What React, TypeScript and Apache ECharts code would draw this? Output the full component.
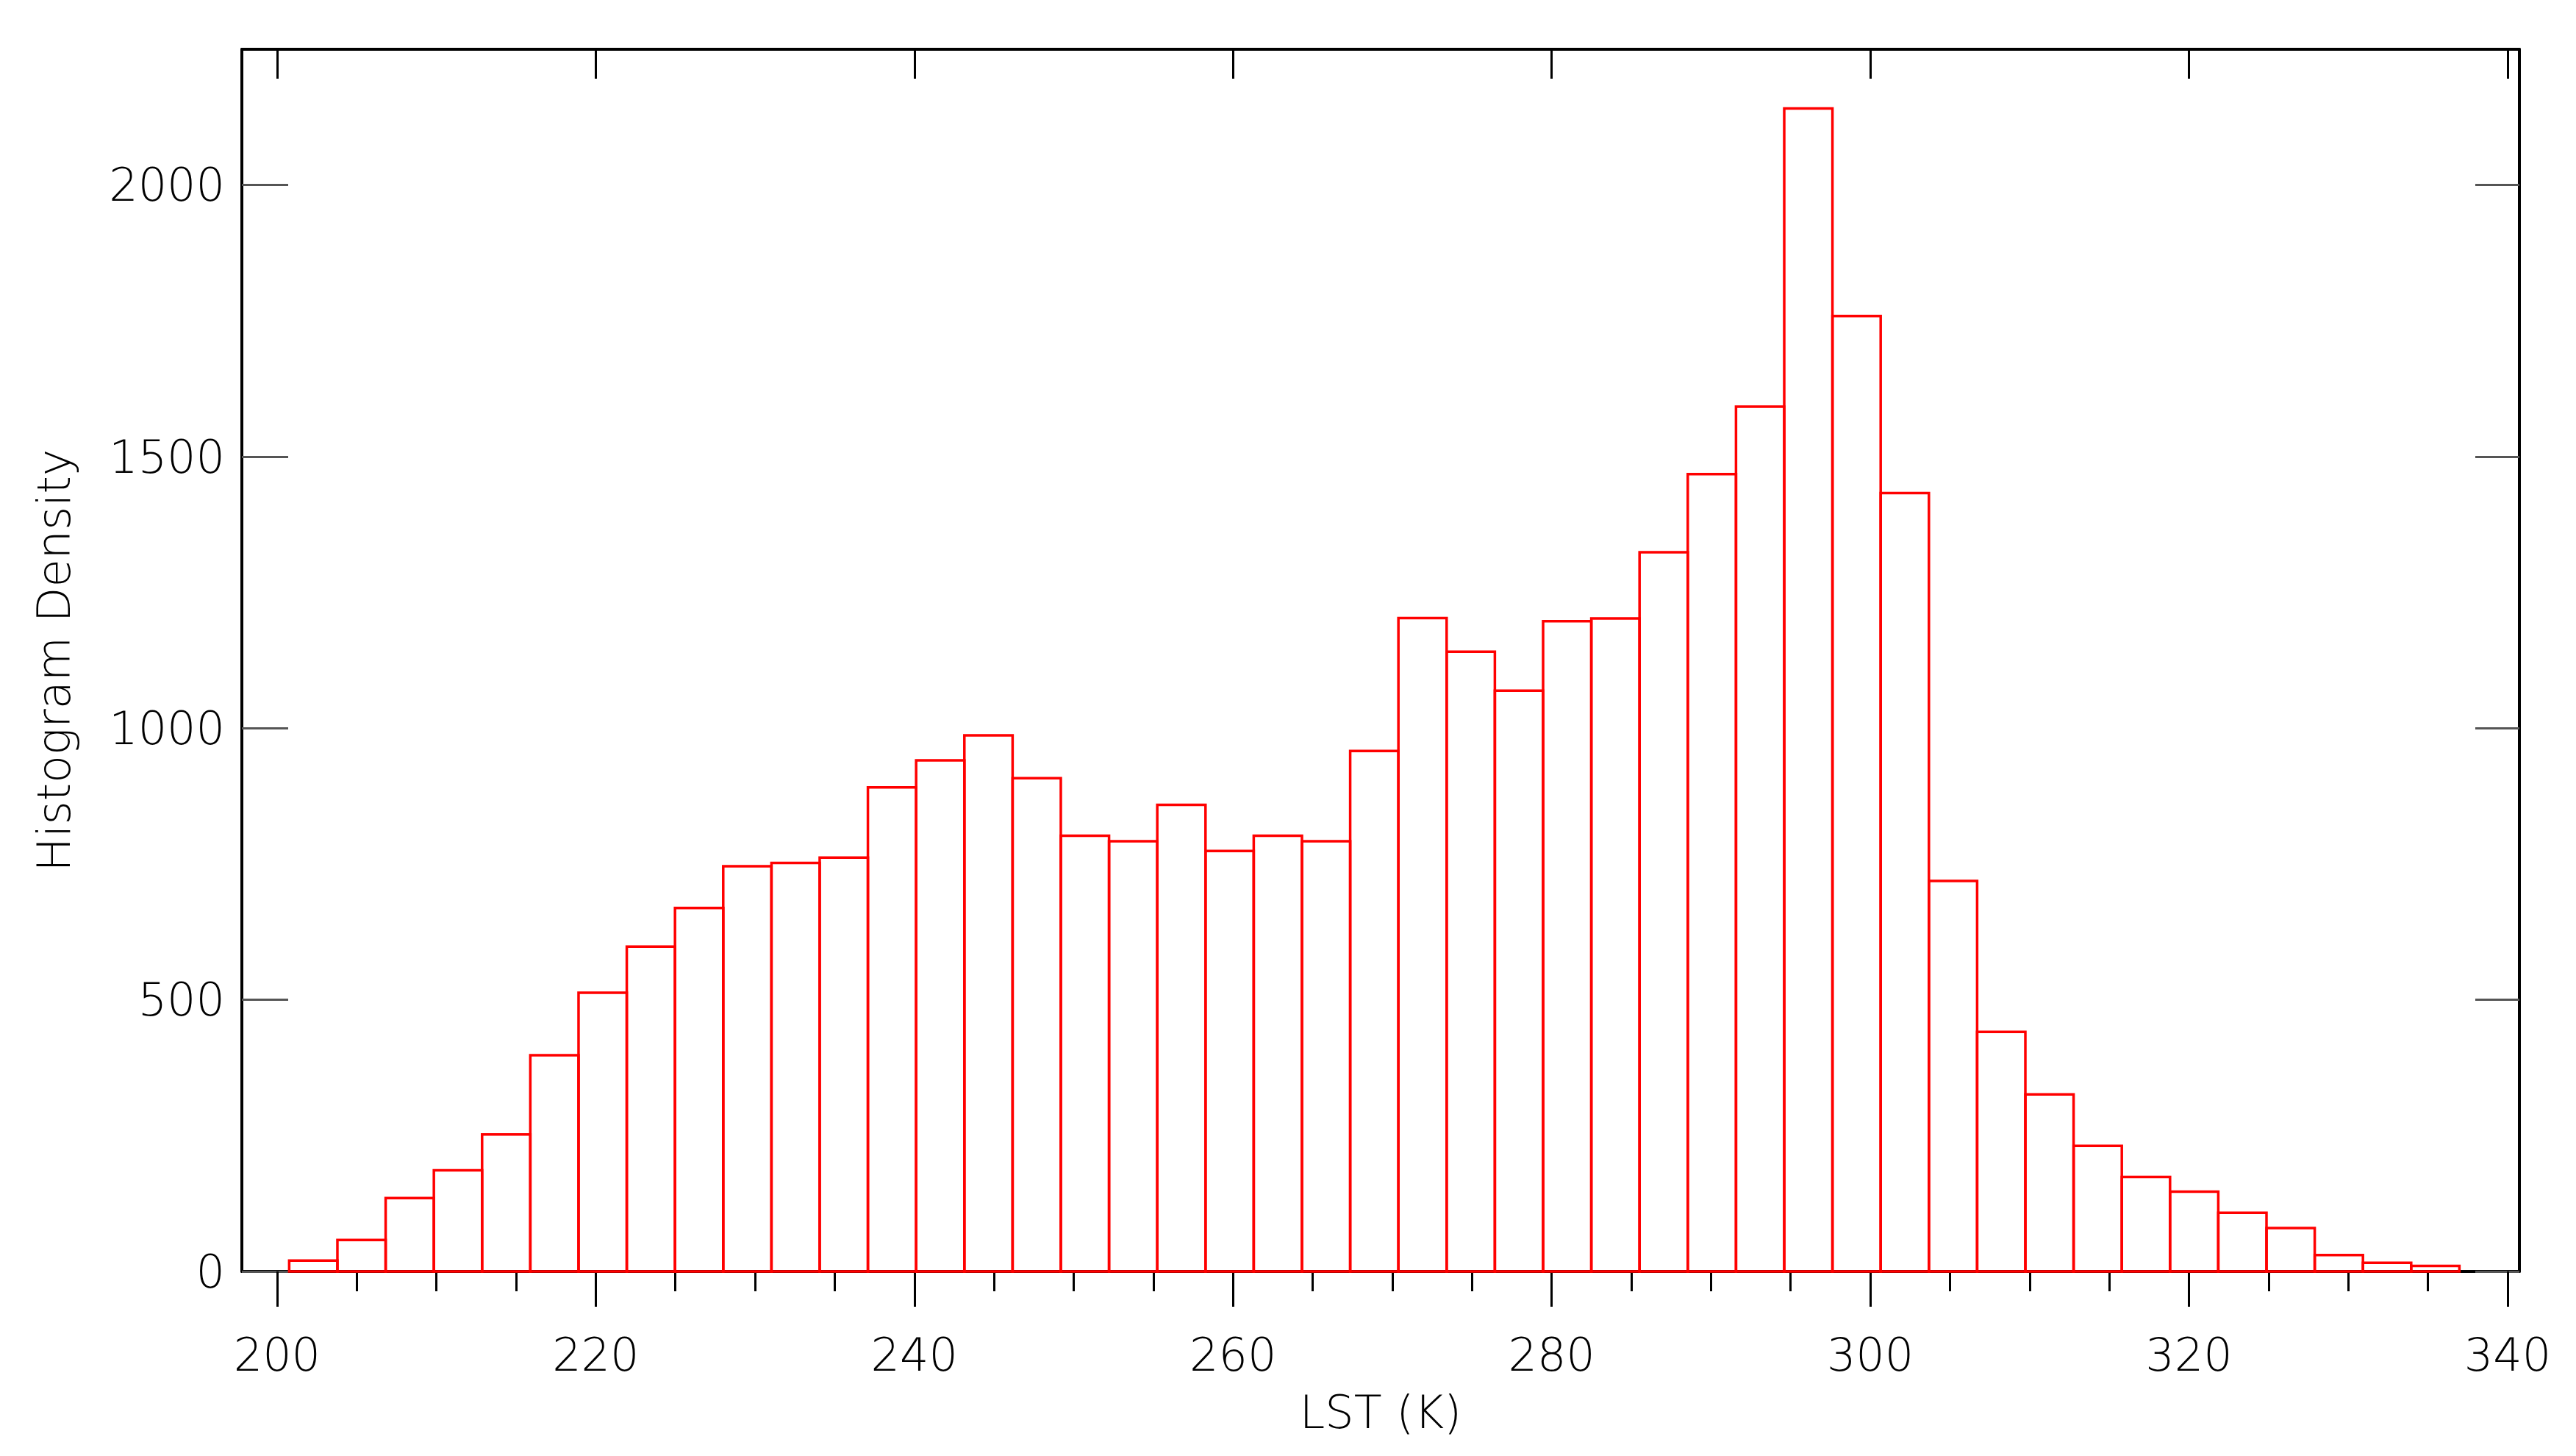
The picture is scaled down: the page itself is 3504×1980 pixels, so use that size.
import React, { useEffect, useRef } from "react";
import * as echarts from "echarts";

// Histogram of LST (K): bins start at binStart, each binWidth wide
const binStart = 200.76;
const binWidth = 3.027;
const densityValues = [
  20, 58, 135, 186, 252, 398, 513, 598, 669, 746, 752, 762, 891, 941, 987,
  908, 802, 792, 859, 774, 802, 792, 958, 1203, 1141, 1069, 1197, 1202, 1324,
  1468, 1592, 2141, 1759, 1433, 719, 441, 326, 231, 174, 147, 108, 80, 30, 16,
  10,
];
const xMajorTicks = [200, 220, 240, 260, 280, 300, 320, 340];
const xMinorTicks = [
  205, 210, 215, 225, 230, 235, 245, 250, 255, 265, 270, 275, 285, 290, 295,
  305, 310, 315, 325, 330, 335,
];
const yTicks = [0, 500, 1000, 1500, 2000];
const xRange = [197.79, 340.74];
const yRange = [0, 2250];
const xTitle = "LST (K)";
const yTitle = "Histogram Density";

export default function App() {
  const ref = useRef<HTMLDivElement>(null);

  useEffect(() => {
    document.body.style.margin = "0";
    if (!ref.current) return;
    const chart = echarts.init(ref.current, null, { renderer: "svg" });

    const bins = densityValues.map((v, i) => [
      binStart + i * binWidth,
      binStart + (i + 1) * binWidth,
      v,
    ]);

    const font = {
      fontFamily: "DejaVu Sans",
      fontWeight: 200 as any,
      fontSize: 62,
      color: "#000",
    };
    const plain = (v: number) => String(v);
    const frame = { color: "#000", width: 4 };
    const tickStyle = { color: "#000", width: 3 };
    const yTickStyle = { color: "#555", width: 3 };

    chart.setOption({
      animation: false,
      backgroundColor: "#fff",
      grid: { left: 329, right: 77, top: 67, bottom: 251, containLabel: false },
      xAxis: [
        {
          type: "value",
          position: "bottom",
          min: xRange[0],
          max: xRange[1],
          axisLine: { show: true, onZero: false, lineStyle: frame },
          axisTick: {
            show: true,
            inside: false,
            length: 48,
            customValues: xMajorTicks,
            lineStyle: tickStyle,
          },
          axisLabel: {
            show: true,
            customValues: xMajorTicks,
            margin: 82,
            formatter: plain,
            ...font,
          },
          splitLine: { show: false },
          name: xTitle,
          nameLocation: "middle",
          nameGap: 160,
          nameTextStyle: font,
        },
        {
          type: "value",
          position: "bottom",
          min: xRange[0],
          max: xRange[1],
          axisLine: { show: false, onZero: false },
          axisTick: {
            show: true,
            inside: false,
            length: 27,
            customValues: xMinorTicks,
            lineStyle: tickStyle,
          },
          axisLabel: { show: false },
          splitLine: { show: false },
        },
        {
          type: "value",
          position: "top",
          min: xRange[0],
          max: xRange[1],
          axisLine: { show: true, onZero: false, lineStyle: frame },
          axisTick: {
            show: true,
            inside: true,
            length: 40,
            customValues: xMajorTicks,
            lineStyle: tickStyle,
          },
          axisLabel: { show: false },
          splitLine: { show: false },
        },
      ],
      yAxis: [
        {
          type: "value",
          position: "left",
          min: yRange[0],
          max: yRange[1],
          axisLine: { show: true, onZero: false, lineStyle: frame },
          axisTick: {
            show: true,
            inside: true,
            length: 63,
            customValues: yTicks,
            lineStyle: yTickStyle,
          },
          axisLabel: {
            show: true,
            customValues: yTicks,
            margin: 23,
            formatter: plain,
            ...font,
          },
          splitLine: { show: false },
          name: yTitle,
          nameLocation: "middle",
          nameGap: 225,
          nameRotate: 90,
          nameTextStyle: font,
        },
        {
          type: "value",
          position: "right",
          min: yRange[0],
          max: yRange[1],
          axisLine: { show: true, onZero: false, lineStyle: frame },
          axisTick: {
            show: true,
            inside: true,
            length: 60,
            customValues: yTicks,
            lineStyle: yTickStyle,
          },
          axisLabel: { show: false },
          splitLine: { show: false },
        },
      ],
      series: [
        {
          type: "custom",
          xAxisIndex: 0,
          yAxisIndex: 0,
          encode: { x: [0, 1], y: 2 },
          data: bins,
          renderItem: (params: any, api: any) => {
            const p0 = api.coord([api.value(0), api.value(2)]);
            const p1 = api.coord([api.value(1), 0]);
            return {
              type: "rect",
              shape: {
                x: p0[0],
                y: p0[1],
                width: p1[0] - p0[0],
                height: p1[1] - p0[1],
              },
              style: { fill: "none", stroke: "#ff0000", lineWidth: 3.5 },
            };
          },
        },
      ],
    });

    return () => chart.dispose();
  }, []);

  return <div ref={ref} style={{ width: 3504, height: 1980 }} />;
}
